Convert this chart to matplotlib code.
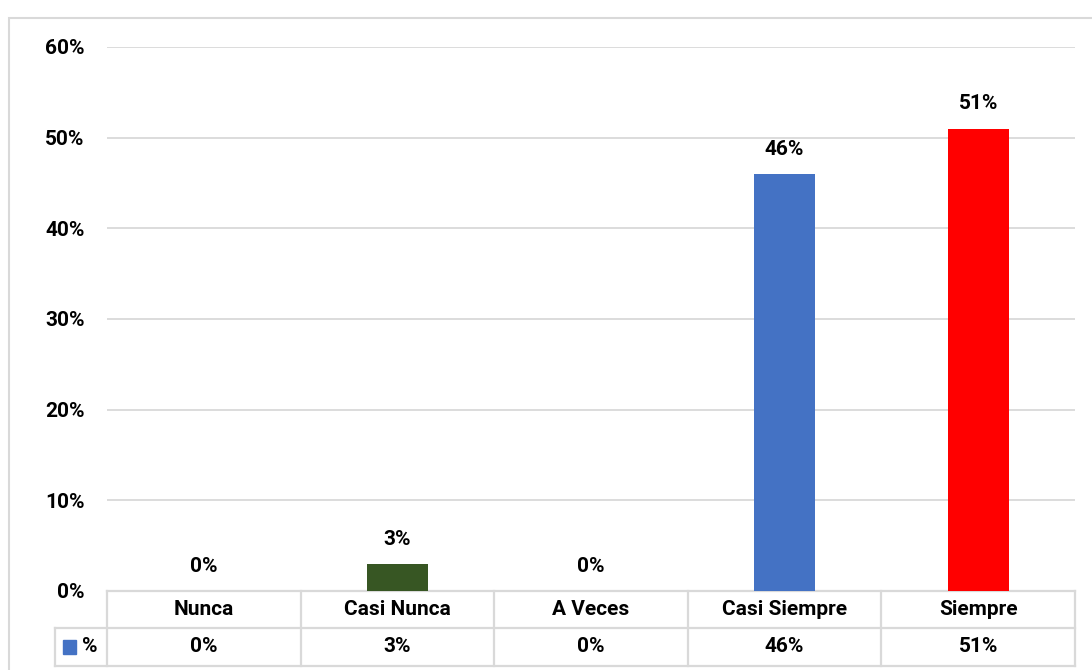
import matplotlib.pyplot as plt
from matplotlib.patches import Rectangle
from matplotlib.transforms import blended_transform_factory
import numpy as np

categories = ["Nunca", "Casi Nunca", "A Veces", "Casi Siempre", "Siempre"]
values = [0.00, 0.03, 0.00, 0.46, 0.51]
value_labels = ["0%", "3%", "0%", "46%", "51%"]
bar_colors = ["#4472C4", "#375623", "#4472C4", "#4472C4", "#FF0000"]
yticks = [0.0, 0.1, 0.2, 0.3, 0.4, 0.5, 0.6]
series_name = "%"

W, H = 1092, 670
grid_color = "#D9D9D9"
fs = 15
plt.rcParams['font.family'] = ['Roboto', 'DejaVu Sans']
plt.rcParams['font.weight'] = 'bold'

fig = plt.figure(figsize=(W / 100, H / 100), dpi=100)

# plot area in pixels: x 107..1075, y 47..591
left, right, top, bottom = 107, 1075, 47, 591
ax = fig.add_axes([left / W, 1 - bottom / H, (right - left) / W, (bottom - top) / H])

x = np.arange(len(categories))
ax.bar(x, values, width=0.315, color=bar_colors, zorder=3)
ax.set_xlim(-0.5, len(categories) - 0.5)
ax.set_ylim(0, 0.6)
ax.set_yticks(yticks)
ax.set_yticklabels([f"{int(round(t * 100))}%" for t in yticks], fontsize=fs, fontweight="bold")
ax.tick_params(axis="y", length=0, pad=16)
ax.set_xticks([])
for s in ax.spines.values():
    s.set_visible(False)
for t in yticks[1:]:
    ax.axhline(t, color=grid_color, lw=1.3, zorder=1)

for xi, v, lab in zip(x, values, value_labels):
    ax.annotate(lab, (xi, v), xytext=(0, 11), textcoords="offset points",
                ha="center", va="bottom", fontsize=fs, fontweight="bold")

# data table under the plot
plot_h = bottom - top
r1 = -(628 - bottom) / plot_h
r2 = -(666 - bottom) / plot_h
tr = blended_transform_factory(ax.transData, ax.transAxes)
n = len(categories)
lw = 1.6
ax.plot([-0.5, n - 0.5], [0, 0], transform=tr, color=grid_color, lw=lw, clip_on=False)
lab_left = -0.5 - (left - 55) / ((right - left) / n)
for yy in (r1, r2):
    ax.plot([lab_left, n - 0.5], [yy, yy], transform=tr, color=grid_color, lw=lw, clip_on=False)
for b in np.arange(n + 1) - 0.5:
    ax.plot([b, b], [0, r2], transform=tr, color=grid_color, lw=lw, clip_on=False)
ax.plot([lab_left, lab_left], [r1, r2], transform=tr, color=grid_color, lw=lw, clip_on=False)

for xi, cat, lab in zip(x, categories, value_labels):
    ax.text(xi, r1 / 2, cat, transform=tr, ha="center", va="center",
            fontsize=fs, fontweight="bold")
    ax.text(xi, (r1 + r2) / 2, lab, transform=tr, ha="center", va="center",
            fontsize=fs, fontweight="bold")

# legend key in the table
key_x = lab_left + 0.04
ax.add_patch(Rectangle((key_x, (r1 + r2) / 2 - 0.013), 0.07, 0.026, transform=tr,
                       color="#4472C4", clip_on=False))
ax.text(key_x + 0.1, (r1 + r2) / 2, series_name, transform=tr, ha="left", va="center",
        fontsize=fs, fontweight="bold")

# chart border
fig.patches.append(Rectangle((9 / W, -0.1), 1.2, 1.1 - 18 / H, transform=fig.transFigure,
                             fill=False, edgecolor=grid_color, lw=1.5))

fig.savefig("out.png", dpi=100)
